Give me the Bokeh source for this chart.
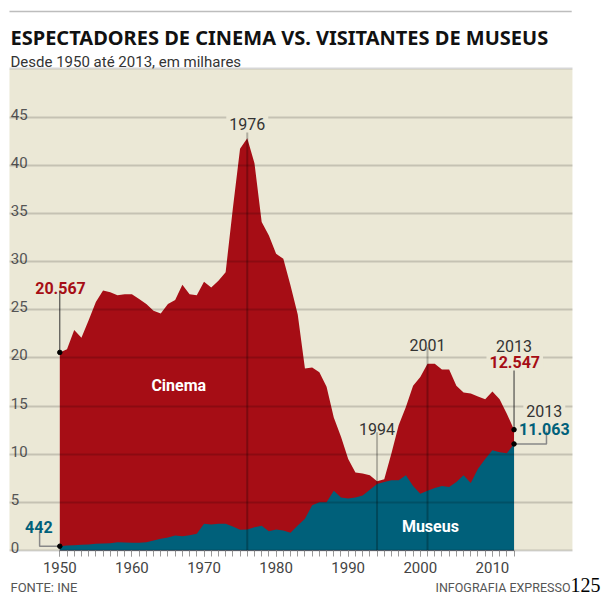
from bokeh.plotting import figure
from bokeh.models import Range1d, FixedTicker, Grid, Label, BoxAnnotation
from bokeh.core.properties import value
from bokeh.embed import file_html
from bokeh.resources import INLINE

# ---------------- data (millions of people) ----------------
years = list(range(1950, 2014))
cinema = [20.567, 20.9, 22.9, 22.1, 23.9, 25.8, 27.0, 26.8, 26.5, 26.6,
          26.6, 26.1, 25.6, 24.9, 24.6, 25.6, 26.0, 27.6, 26.6, 26.5,
          27.9, 27.3, 28.0, 28.9, 35.5, 41.7, 42.8, 40.2, 34.1, 32.7,
          30.8, 30.3, 27.5, 24.5, 18.9, 19.0, 18.5, 17.0, 13.8, 11.8,
          9.5, 8.1, 8.0, 7.8, 7.2, 7.4, 10.1, 13.0, 14.9, 17.1,
          18.0, 19.4, 19.4, 18.8, 18.8, 17.1, 16.4, 16.3, 16.0, 15.7,
          16.5, 15.7, 14.2, 12.547]
museus = [0.442, 0.52, 0.55, 0.6, 0.62, 0.69, 0.72, 0.75, 0.86, 0.82,
          0.8, 0.8, 0.86, 1.04, 1.21, 1.35, 1.56, 1.49, 1.59, 1.73,
          2.77, 2.7, 2.77, 2.77, 2.49, 2.15, 2.18, 2.42, 2.56, 2.0,
          2.18, 2.08, 1.84, 2.6, 3.3, 4.7, 5.0, 5.0, 6.2, 5.5,
          5.4, 5.5, 5.7, 6.3, 6.9, 7.1, 7.3, 7.3, 7.8, 6.7,
          5.9, 6.2, 6.5, 6.7, 6.6, 7.1, 7.8, 7.0, 8.5, 9.5,
          10.4, 10.2, 10.1, 11.063]
y_ticks = [0, 5, 10, 15, 20, 25, 30, 35, 40, 45]
grid_ticks = y_ticks + [50]
x_major = [1950, 1960, 1970, 1980, 1990, 2000, 2010]
highlight_years = [1976, 1994, 2001]

TITLE = "ESPECTADORES DE CINEMA VS. VISITANTES DE MUSEUS"
SUBTITLE = "Desde 1950 até 2013, em milhares"
SOURCE = "FONTE: INE"
CREDIT = "INFOGRAFIA EXPRESSO"
PAGE = "125"

RED = "#a60d15"
TEAL = "#00607a"
BEIGE = "#ebe8d6"
FONT = "Roboto"

# panel extents (data units)
X_LEFT, X_RIGHT = 1943.02, 2021.1
Y_TOP = 50

p = figure(width=602, height=596,
           x_range=Range1d(1941.775, 2025.27), y_range=Range1d(-4.775, 57.10),
           y_axis_type=None,
           output_backend="svg", toolbar_location=None,
           min_border_left=0, min_border_right=0,
           min_border_top=0, min_border_bottom=0,
           background_fill_color="white", border_fill_color="white",
           outline_line_color=None)

# beige plotting panel
p.add_layout(BoxAnnotation(left=X_LEFT, right=X_RIGHT, bottom=0, top=Y_TOP,
                           fill_color=BEIGE, fill_alpha=1,
                           line_color=None, level="underlay"))
# top rule
p.add_layout(BoxAnnotation(left=X_LEFT, right=X_RIGHT - 0.1, bottom=55.88,
                           top=56.04, fill_color="#bdbdbd", fill_alpha=1,
                           line_color=None, level="underlay"))

# areas
p.varea(x=years, y1=0, y2=cinema, fill_color=RED)
p.varea(x=years, y1=0, y2=museus, fill_color=TEAL)

# horizontal grid over the areas
p.xgrid.visible = False
p.add_layout(Grid(dimension=1, ticker=FixedTicker(ticks=grid_ticks),
                  cross_bounds=(X_LEFT, X_RIGHT),
                  grid_line_color="black", grid_line_alpha=0.16,
                  grid_line_width=2, level="guide"))

# y tick labels inside the panel
p.text(x=[X_LEFT + 0.18] * len(y_ticks), y=[v + 0.3 for v in y_ticks],
       text=[str(v) for v in y_ticks],
       text_font=value(FONT), text_font_size="15px", text_color="#555",
       text_align="left", text_baseline="alphabetic")

# x axis (drawn at y = 0)
ax = p.xaxis[0]
ax.fixed_location = 0
ax.ticker = FixedTicker(ticks=x_major, minor_ticks=years)
ax.axis_line_color = None
ax.major_tick_line_color = "#9a9a9a"
ax.minor_tick_line_color = "#9a9a9a"
ax.major_tick_out = 6
ax.minor_tick_out = 6
ax.major_tick_in = 0
ax.minor_tick_in = 0
ax.major_label_standoff = 5
ax.major_label_text_font = FONT
ax.major_label_text_font_size = "15px"
ax.major_label_text_color = "#444"

# vertical marker lines for highlighted years
line_tops = [43.84, 12.28, 21.1]
p.segment(x0=highlight_years, y0=[0] * 3, x1=highlight_years, y1=line_tops,
          line_color="black", line_alpha=0.25, line_width=2)

# leader lines
c0, c1 = cinema[0], cinema[-1]
m0, m1 = museus[0], museus[-1]
p.segment(x0=[years[0], years[-1]], y0=[c0, c1],
          x1=[years[0], years[-1]], y1=[26.9, 19.2],
          line_color="#333", line_width=1)
p.line(x=[years[0], 1947.2, 1947.2], y=[m0, m0, 2.0],
       line_color="#888", line_width=1.5)
p.line(x=[years[-1], 2017.5, 2017.5], y=[m1, m1, 12.35],
       line_color="#888", line_width=1.5)
p.scatter(x=[years[0], years[-1], years[0], years[-1]], y=[c0, c1, m0, m1],
          size=4.5, color="black")


def lab(x, y, text, size="15px", color="#333", bold=False, align="center",
        bg=None, font=FONT):
    kw = {}
    if bg:
        kw = dict(background_fill_color=bg, background_fill_alpha=1, padding=3)
    p.add_layout(Label(x=x, y=y, text=text, text_font=font,
                       text_font_size=size, text_color=color,
                       text_font_style="bold" if bold else "normal",
                       text_align=align, text_baseline="alphabetic", **kw))


# titles
lab(X_LEFT + 0.14, 53.25, TITLE, size="20px", color="#111", bold=True,
    align="left", font="Noto Sans")
lab(X_LEFT + 0.14, 50.76, SUBTITLE, size="15px", color="#333", align="left")

# highlighted year labels
lab(highlight_years[0], 44.33, str(highlight_years[0]), size="16px",
    color="#333", bg=BEIGE)
lab(highlight_years[1], 12.63, str(highlight_years[1]), size="16px",
    color="#333")
lab(highlight_years[2], 21.38, str(highlight_years[2]), size="16px",
    color="#333")


# first / last values
def fmt(v):
    return str(int(round(v * 1000))) if v < 1 else f"{v:.3f}"


lab(1950.1, 27.27, fmt(c0), size="16px", color=RED, bold=True)
lab(1947.1, 2.42, fmt(m0), size="16px", color=TEAL, bold=True)
lab(2013.0, 21.28, str(years[-1]), size="16px", color="#333")
lab(2013.1, 19.62, fmt(c1), size="16px", color=RED, bold=True, bg=BEIGE)
lab(2017.2, 14.53, str(years[-1]), size="16px", color="#333", bg=BEIGE)
lab(2017.2, 12.63, fmt(m1), size="16px", color=TEAL, bold=True)

# series names
lab(1966.5, 17.13, "Cinema", size="16px", color="white", bold=True)
lab(2001.4, 2.49, "Museus", size="16px", color="white", bold=True)

# footer
lab(X_LEFT + 0.14, -3.84, SOURCE, size="13px", color="#555", align="left")
lab(2020.83, -3.84, CREDIT, size="12.5px", color="#555", align="right")
lab(2025.0, -3.6, PAGE, size="20px", color="black", align="right",
    font="Liberation Serif")

open("out.html", "w").write(file_html(p, INLINE))
